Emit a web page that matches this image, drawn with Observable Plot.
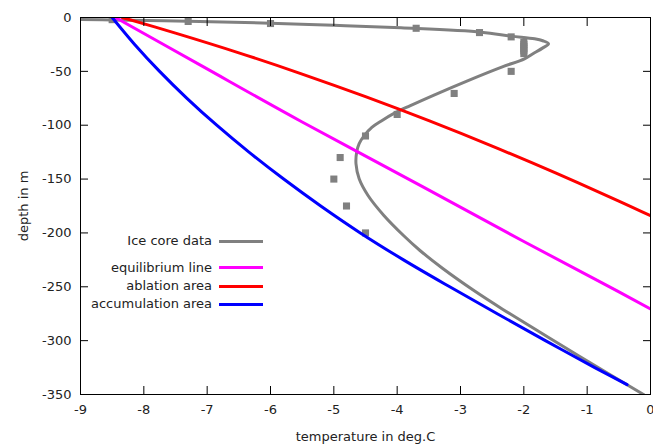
<!DOCTYPE html>
<html><head><meta charset="utf-8">
<script src="https://cdn.jsdelivr.net/npm/d3@7"></script>
<script src="https://cdn.jsdelivr.net/npm/@observablehq/plot@0.6"></script>
<style>
body{margin:0;background:#fff;}
#wrap{position:relative;width:653px;height:447px;font-family:"DejaVu Sans",sans-serif;font-size:13px;color:#222;}
.lg-text{position:absolute;left:0;width:212px;text-align:right;line-height:16px;white-space:nowrap;}
.lg-line{position:absolute;left:219px;width:44px;height:3px;}
</style></head><body><div id="wrap"></div>
<script>
const xTicks = [-9,-8,-7,-6,-5,-4,-3,-2,-1,0];
const yTicks = [0,-50,-100,-150,-200,-250,-300,-350];

// Ice core measurements
const coreT = [-8.5,-7.3,-6.0,-3.7,-2.7,-2.2,-2.0,-2.0,-2.0,-2.0,-2.0,-2.0,-2.2,-3.1,-4.0,-4.5,-4.9,-5.0,-4.8,-4.5];
const coreD = [-2,-3.7,-5.6,-10,-14,-18,-23,-25,-27,-29,-31,-33.5,-50,-70.5,-90,-110,-130,-150,-175,-200];

// Ice core fit curve
const fitT = [-9.0,-8.5,-7.3,-6.0,-5.0,-3.94,-2.67,-2.2,-1.83,-1.7,-1.61,-1.7,-1.85,-1.99,-2.35,-2.88,-3.4,-3.8,-4.05,-4.25,-4.40,-4.52,-4.60,-4.64,-4.65,-4.60,-4.46,-4.21,-3.90,-3.64,-3.28,-2.80,-2.33,-1.75,-1.11,-0.11];
const fitD = [-1.8,-2.3,-3.5,-5.3,-7.2,-9.6,-13.6,-17.3,-19.8,-21.6,-24.4,-28.2,-33.5,-38.4,-46,-58.5,-71.5,-82,-89,-96,-102,-109.6,-117,-125,-136,-149.8,-165.3,-183.8,-202.4,-216.3,-233,-253,-271,-292,-315,-350];

// Model curves
const eqT = [-8.45,-7.1,-5.5,-3.6,-2.0,-0.84,0];
const eqD = [0,-44.5,-97,-157,-208,-244,-270.5];
const ablT = [-8.34,-7.5,-6.5,-5.5,-4.5,-3.5,-2.5,-1.5,-0.5,0];
const ablD = [0,-14.5,-32.8,-52.5,-73.5,-95.8,-119.4,-144.3,-170.4,-184];
const accT = [-8.5,-8.145,-7.751,-7.319,-6.849,-6.34,-5.792,-5.207,-4.582,-3.90,-3.17,-2.42,-1.66,-0.88,-0.37];
const accD = [0,-25,-50,-75,-100,-125,-150,-175,-200,-225,-250,-275,-300,-325,-340.8];

const seriesNames = ["Ice core data","equilibrium line","ablation area","accumulation area"];
const seriesColors = ["#808080","#ff00ff","#ff0000","#0000ff"];

const pts = (T, D) => T.map((t, i) => ({t, d: D[i]}));
const core = pts(coreT, coreD), fit = pts(fitT, fitD), eq = pts(eqT, eqD), abl = pts(ablT, ablD), acc = pts(accT, accD);
const fmt = d => String(d);

const chart = Plot.plot({
  width: 653, height: 447,
  marginLeft: 80, marginRight: 3, marginTop: 17, marginBottom: 53,
  style: {fontFamily: '"DejaVu Sans", sans-serif', fontSize: "13px", color: "#222", background: "#fff"},
  x: {domain: [-9, 0]},
  y: {domain: [-350, 0]},
  marks: [
    Plot.dot(core, {x: "t", y: "d", symbol: "square", r: 4, fill: seriesColors[0], stroke: "none", clip: true}),
    Plot.line(fit, {x: "t", y: "d", stroke: seriesColors[0], strokeWidth: 3, curve: "catmull-rom", clip: true}),
    Plot.line(eq, {x: "t", y: "d", stroke: seriesColors[1], strokeWidth: 3, curve: "catmull-rom", clip: true}),
    Plot.line(abl, {x: "t", y: "d", stroke: seriesColors[2], strokeWidth: 3, curve: "catmull-rom", clip: true}),
    Plot.line(acc, {x: "t", y: "d", stroke: seriesColors[3], strokeWidth: 3, curve: "catmull-rom", clip: true}),
    Plot.frame({stroke: "#000", strokeWidth: 1}),
    Plot.axisX(xTicks, {anchor: "bottom", tickSize: -8, tickPadding: 18, tickFormat: fmt, label: "temperature in deg.C", labelAnchor: "center", labelArrow: "none", labelOffset: 46, stroke: "#000"}),
    Plot.axisX(xTicks, {anchor: "top", tickSize: -8, tickFormat: () => "", label: null, stroke: "#000"}),
    Plot.axisY(yTicks, {anchor: "left", tickSize: -8, tickPadding: 17, tickFormat: fmt, label: "depth in m", labelAnchor: "center", labelArrow: "none", labelOffset: 62, stroke: "#000"}),
    Plot.axisY(yTicks, {anchor: "right", tickSize: -8, tickFormat: () => "", label: null, stroke: "#000"})
  ]
});
const wrap = document.getElementById("wrap");
wrap.appendChild(chart);

const legendY = [241, 267.5, 286, 304];
seriesNames.forEach((name, i) => {
  const t = document.createElement("div");
  t.className = "lg-text"; t.textContent = name; t.style.top = (legendY[i] - 8) + "px";
  const l = document.createElement("div");
  l.className = "lg-line"; l.style.background = seriesColors[i]; l.style.top = (legendY[i] - 1.5) + "px";
  wrap.appendChild(t); wrap.appendChild(l);
});
</script></body></html>
